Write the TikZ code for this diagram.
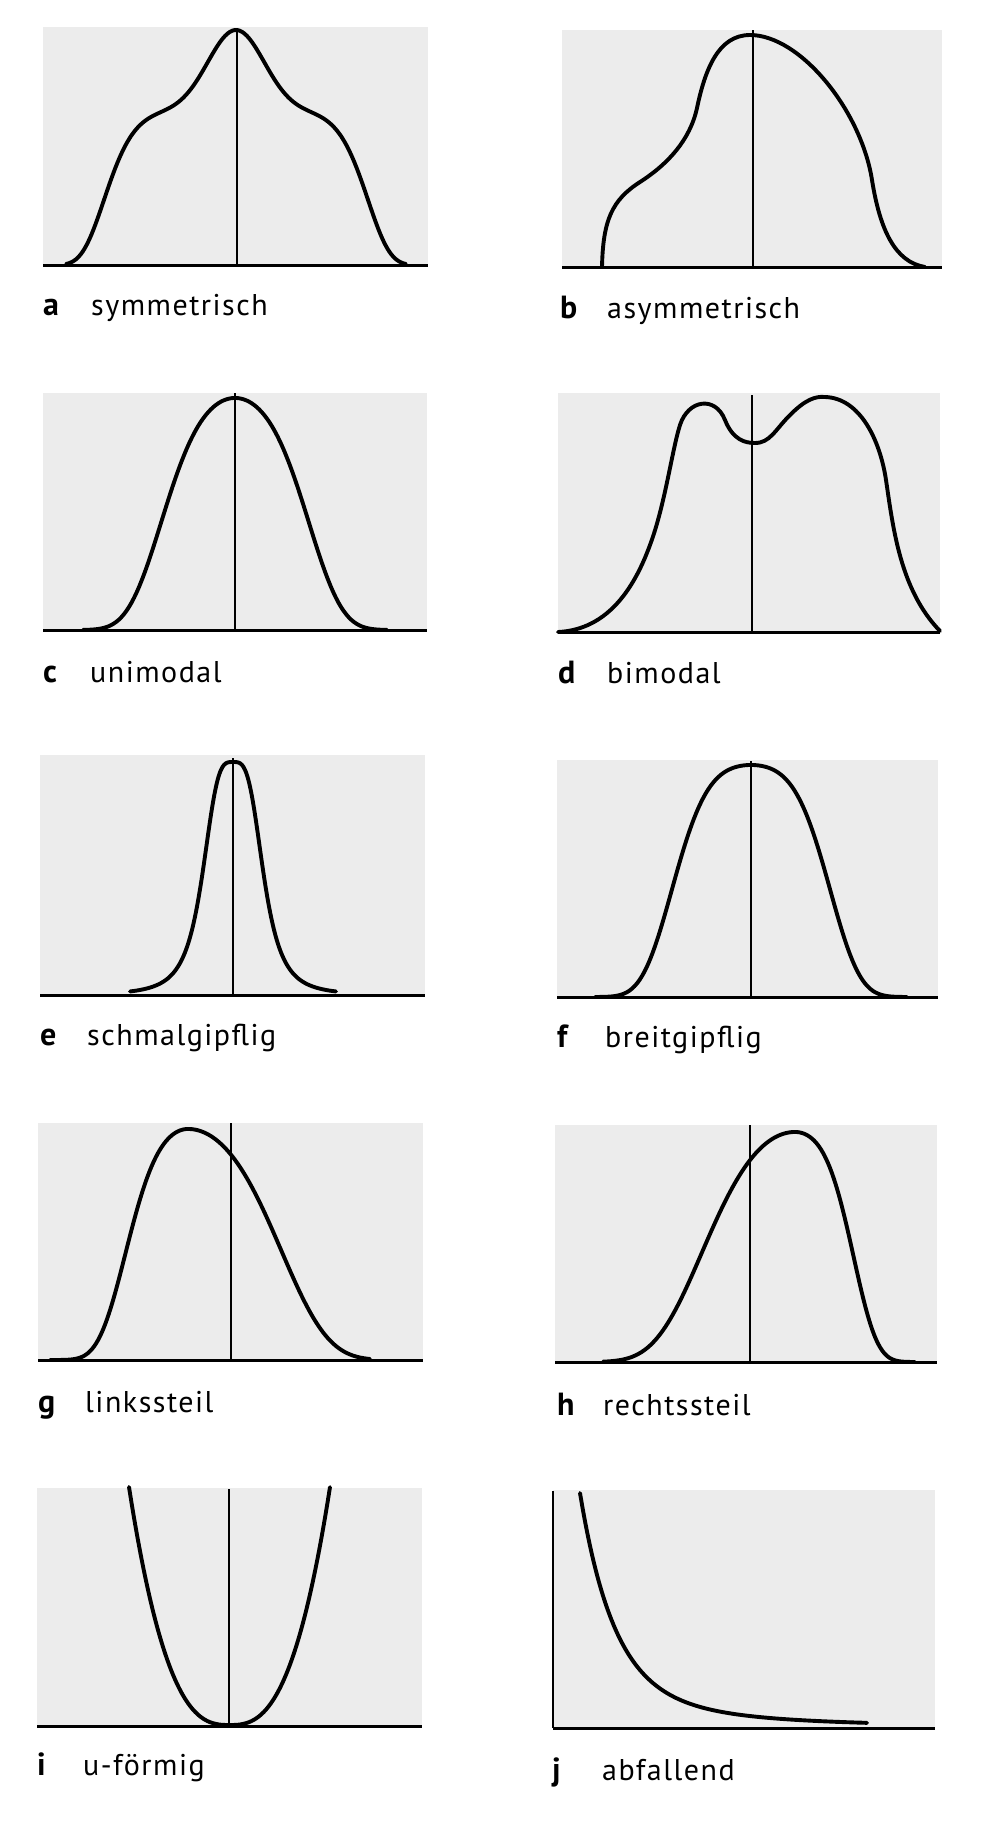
\documentclass[tikz,border=0pt]{standalone}
\usepackage{fontspec}
\setmainfont{PT Sans}
\newfontfamily\capfont[LetterSpace=5]{PT Sans}
\definecolor{boxgray}{RGB}{236,236,236}
\begin{document}
\begin{tikzpicture}[x=1pt,y=-1pt,
  panel/.style={fill=boxgray, draw=none},
  curve/.style={line width=3.9pt, line join=round, line cap=round},
  axisline/.style={line width=3pt},
  midline/.style={line width=2.5pt},
  tag/.style={anchor=base west, inner sep=0pt, font=\fontsize{32}{36}\selectfont\bfseries},
  caption/.style={anchor=base west, inner sep=0pt, font=\capfont\fontsize{30}{34}\selectfont}]
\useasboundingbox[fill=white] (0,0) rectangle (990,1823);

% ---------- a symmetrisch ----------
\fill[panel] (43,27) rectangle (428,265);
\draw[curve] plot[domain=-170:170, samples=140, smooth]
  ({236+\x},{265-153*exp(-(abs(\x)/135)^7)-82*exp(-(\x/40)^2)});
\draw[axisline] (43,265) -- (428,265);
\draw[midline] (237,28) -- (237,265);
\node[tag] (la) at (43,315) {a};
\node[caption] (ca) at (91,315) {symmetrisch};

% ---------- b asymmetrisch ----------
\fill[panel] (562,30) rectangle (942,267);
\draw[curve] (602,267) .. controls (603,220) and (612,200) .. (640,182)
  .. controls (668,164) and (690,140) .. (697,108)
  .. controls (705,70) and (718,35) .. (750,35)
  .. controls (800,35) and (861,110) .. (872,180)
  .. controls (880,230) and (895,262) .. (925,267);
\draw[axisline] (562,267) -- (942,267);
\draw[midline] (753,30) -- (753,267);
\node[tag] (lb) at (560,318) {b};
\node[caption] (cb) at (607,318) {asymmetrisch};

% ---------- c unimodal ----------
\fill[panel] (43,393) rectangle (427,630);
\draw[curve] plot[domain=-152:152, samples=120, smooth]
  ({235+\x},{630-232*exp(-(\x/111.8)^2-(\x/97.3)^4)});
\draw[axisline] (43,630) -- (427,630);
\draw[midline] (235,393) -- (235,630);
\node[tag] (lc) at (43,682) {c};
\node[caption] (cc) at (90,682) {unimodal};

% ---------- d bimodal ----------
\fill[panel] (558,393) rectangle (940,632);
\draw[curve] (558,632) .. controls (600,630) and (630,600) .. (650,545)
  .. controls (665,505) and (672,450) .. (680,425)
  .. controls (688,400) and (715,395) .. (725,420)
  .. controls (733,440) and (745,443) .. (755,443)
  .. controls (770,443) and (775,430) .. (790,415)
  .. controls (805,400) and (815,396) .. (825,397)
  .. controls (860,398) and (880,440) .. (886,480)
  .. controls (893,527) and (900,590) .. (940,631);
\draw[axisline] (558,632) -- (940,632);
\draw[midline] (752,395) -- (752,632);
\node[tag] (ld) at (558,683) {d};
\node[caption] (cd) at (607,683) {bimodal};

% ---------- e schmalgipflig ----------
\fill[panel] (40,755) rectangle (425,995);
\draw[curve] plot[domain=-103:103, samples=130, smooth]
  ({233+\x},{995-233/(1+((abs(\x)+0.01)/31.3)^3.5)});
\draw[axisline] (40,995) -- (425,995);
\draw[midline] (233,758) -- (233,995);
\node[tag] (le) at (40,1045) {e};
\node[caption] (ce) at (87,1045) {schmalgipflig};

% ---------- f breitgipflig ----------
\fill[panel] (557,760) rectangle (938,997);
\draw[curve] plot[domain=-156:156, samples=120, smooth]
  ({751+\x},{997-232*exp(-(\x/169)^2-(\x/91.8)^4)});
\draw[axisline] (557,997) -- (938,997);
\draw[midline] (751,761) -- (751,997);
\node[tag] (lf) at (557,1047) {f};
\node[caption] (cf) at (605,1047) {breitgipflig};

% ---------- g linkssteil ----------
\fill[panel] (38,1123) rectangle (423,1360);
\draw[curve] plot[domain=-138:0, samples=70, smooth]
  ({188+\x},{1360-231*exp(-(\x/100)^2-(\x/79.5)^4)})
  -- plot[domain=0:182, samples=90, smooth]
  ({188+\x},{1360-231*exp(-(\x/131.3)^2-(\x/133)^4)});
\draw[axisline] (38,1360) -- (423,1360);
\draw[midline] (231,1123) -- (231,1360);
\node[tag] (lg) at (38,1412) {g};
\node[caption] (cg) at (85,1412) {linkssteil};

% ---------- h rechtssteil ----------
\fill[panel] (555,1125) rectangle (937,1362);
\draw[curve] plot[domain=-192:0, samples=90, smooth]
  ({795+\x},{1362-230*exp(-(\x/131.3)^2-(\x/133)^4)})
  -- plot[domain=0:120, samples=70, smooth]
  ({795+\x},{1362-230*exp(-(\x/105.4)^2-(\x/70.7)^4)});
\draw[axisline] (555,1362) -- (937,1362);
\draw[midline] (750,1125) -- (750,1362);
\node[tag] (lh) at (557,1415) {h};
\node[caption] (ch) at (603,1415) {rechtssteil};

% ---------- i u-foermig ----------
\fill[panel] (37,1488) rectangle (422,1726);
\draw[curve] plot[domain=-1:1, samples=80, smooth] ({229.5+100.5*\x},{1725-238*abs(\x)^2.7});
\draw[axisline] (37,1726) -- (422,1726);
\draw[midline] (229,1489) -- (229,1726);
\node[tag] (li) at (37,1775) {i};
\node[caption] (ci) at (83,1775) {u-förmig};

% ---------- j abfallend ----------
\fill[panel] (553,1490) rectangle (935,1728);
\draw[curve] plot[domain=0:287, samples=120, smooth]
  ({580+\x},{1726-195*exp(-\x/34)-38*exp(-\x/115)});
\draw[axisline] (553,1728) -- (935,1728);
\draw[midline] (553,1491) -- (553,1728);
\node[tag] (lj) at (552,1780) {j};
\node[caption] (cj) at (602,1780) {abfallend};
\end{tikzpicture}
\end{document}
